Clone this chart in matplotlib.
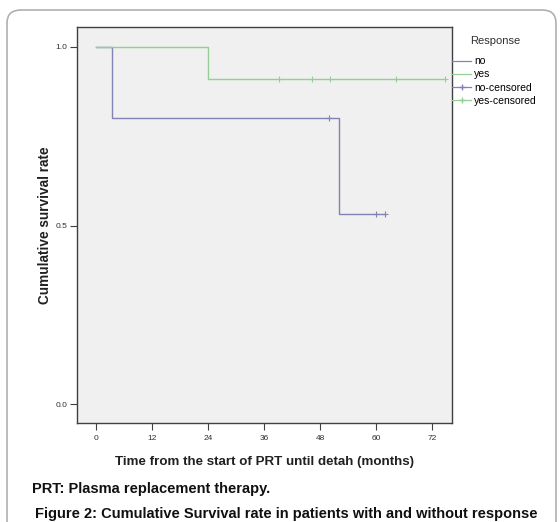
import matplotlib
matplotlib.use("Agg")
import matplotlib.pyplot as plt
from matplotlib.patches import FancyBboxPatch
from matplotlib.lines import Line2D

# ---- data ----
no_times = [0, 3.4, 52, 62]
no_surv = [1.0, 0.8, 0.533, 0.533]
no_cens_t = [50, 60, 62]
no_cens_s = [0.8, 0.533, 0.533]

yes_times = [0, 24, 74.8]
yes_surv = [1.0, 0.909, 0.909]
yes_cens_t = [39.3, 46.4, 50.2, 64.3, 74.8]
yes_cens_s = [0.909, 0.909, 0.909, 0.909, 0.909]

xticks = [0, 12, 24, 36, 48, 60, 72]
xticklabels = ["0", "12", "24", "36", "48", "60", "72"]
yticks = [0.0, 0.5, 1.0]
yticklabels = ["0.0", "0.5", "1.0"]
legend_title = "Response"
legend_labels = ["no", "yes", "no-censored", "yes-censored"]

blue = "#8282b4"
green = "#96cf96"

W, H = 560, 522
plt.rcParams['font.family'] = ['Liberation Sans', 'DejaVu Sans']
fig = plt.figure(figsize=(W / 100, H / 100), dpi=100)

# outer rounded frame
frame = FancyBboxPatch((7 / W, -0.05), (556 - 7) / W, (522 - 10) / H + 0.05,
                       boxstyle="round,pad=0,rounding_size=0.025",
                       transform=fig.transFigure, fill=False,
                       edgecolor="#b0b0b0", linewidth=1.2)
fig.patches.append(frame)

ax_l, ax_r, ax_t, ax_b = 77, 452, 27, 423
ax = fig.add_axes([ax_l / W, 1 - ax_b / H, (ax_r - ax_l) / W, (ax_b - ax_t) / H])
ax.set_facecolor("#f0f0f0")
ax.step(no_times, no_surv, where="post", color=blue, lw=1.0)
ax.step(yes_times, yes_surv, where="post", color=green, lw=1.0)
ax.plot(no_cens_t, no_cens_s, "+", color=blue, ms=4, mew=0.8)
ax.plot(yes_cens_t, yes_cens_s, "+", color=green, ms=4, mew=0.8)

ax.set_xlim(-4.07, 76.3)
ax.set_ylim(-0.053, 1.056)
ax.set_xticks(xticks)
ax.set_xticklabels(xticklabels)
ax.set_yticks(yticks)
ax.set_yticklabels(yticklabels)
ax.tick_params(labelsize=6, length=5, width=0.8, color="#404040", labelcolor="#303030")
ax.tick_params(axis="x", pad=4)
ax.tick_params(axis="y", pad=2)
for s in ax.spines.values():
    s.set_color("#404040")
    s.set_linewidth(1.0)

ax.set_xlabel("Time from the start of PRT until detah (months)", fontsize=9.6,
              fontweight="bold", color="#202020")
ax.xaxis.set_label_coords(0.5, (ax_b - 462) / (ax_b - ax_t))
ax.xaxis.label.set_va("center")
ax.set_ylabel("Cumulative survival rate", fontsize=9.8, fontweight="bold",
              color="#202020")
ax.yaxis.set_label_coords((45 - ax_l) / (ax_r - ax_l), 0.5)
ax.yaxis.label.set_va("center")

handles = [
    Line2D([], [], color=blue, lw=0.9),
    Line2D([], [], color=green, lw=0.9),
    Line2D([], [], color=blue, lw=0.9, marker="+", ms=4),
    Line2D([], [], color=green, lw=0.9, marker="+", ms=4),
]
leg = fig.legend(handles, legend_labels, loc="upper left",
                 bbox_to_anchor=(445 / W, 1 - 49 / H), frameon=False,
                 fontsize=7.5, handlelength=1.8, handletextpad=0.3,
                 labelspacing=0.3, borderpad=0.2)
fig.text(470 / W, 1 - 41 / H, legend_title, fontsize=8, ha="left", va="center",
         color="#303030")

fig.text(32 / W, 1 - 489 / H, "PRT: Plasma replacement therapy.", fontsize=10.5,
         fontweight="bold", va="center", ha="left", color="#101010")
fig.text(35 / W, 1 - 514 / H,
         "Figure 2: Cumulative Survival rate in patients with and without response",
         fontsize=10.5, fontweight="bold", va="center", ha="left", color="#101010")

fig.savefig("out.png", dpi=100)
